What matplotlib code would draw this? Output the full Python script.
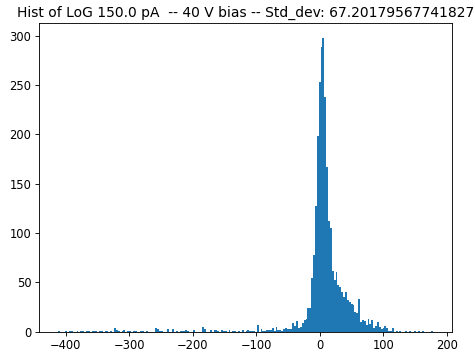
import numpy as np
import matplotlib
matplotlib.use("Agg")
import matplotlib.pyplot as plt

# histogram range and bin count
lo, hi = -412.5, 178.5
n_bins = 200

# counts per bin, left to right
counts = [
    1, 0, 0, 0, 1, 0, 1, 1, 0, 0,
    1, 0, 1, 1, 0, 1, 1, 0, 1, 1,
    1, 0, 1, 1, 0, 1, 1, 0, 1, 0,
    4, 2, 1, 0, 1, 2, 0, 1, 1, 0,
    1, 1, 0, 0, 1, 1, 0, 1, 0, 0,
    0, 0, 4, 3, 1, 1, 0, 0, 3, 0,
    0, 3, 0, 1, 0, 1, 1, 1, 2, 1,
    0, 0, 2, 0, 0, 0, 0, 5, 3, 0,
    0, 2, 0, 2, 2, 1, 0, 2, 1, 1,
    0, 2, 0, 1, 1, 0, 1, 0, 2, 0,
    1, 2, 1, 1, 1, 0, 7, 0, 3, 1,
    1, 2, 2, 2, 4, 1, 5, 2, 2, 1,
    3, 4, 3, 3, 3, 9, 6, 11, 4, 5,
    9, 12, 13, 24, 24, 54, 78, 127, 198, 253,
    289, 298, 238, 167, 112, 105, 61, 52, 60, 47,
    45, 40, 35, 40, 32, 30, 28, 27, 20, 19,
    33, 10, 12, 11, 7, 13, 8, 12, 4, 6,
    10, 5, 3, 4, 6, 4, 1, 1, 4, 0,
    1, 0, 1, 0, 0, 1, 0, 1, 0, 0,
    1, 0, 1, 0, 1, 0, 0, 0, 0, 1,
]

title = "Hist of LoG 150.0 pA  -- 40 V bias -- Std_dev: 67.20179567741827"

edges = np.linspace(lo, hi, n_bins + 1)
centers = (edges[:-1] + edges[1:]) / 2

dpi = 79
fig = plt.figure(figsize=(475 / dpi, 352 / dpi), dpi=dpi)
ax = fig.add_axes([0.0821, 0.0582, 0.8695, 0.8765])
ax.hist(centers, bins=edges, weights=counts, color="#1f77b4")
ax.set_xticks([-400, -300, -200, -100, 0, 100, 200])
ax.tick_params(labelsize=10.5)
ax.set_title(title, fontsize=12.6)

fig.savefig("out.png", dpi=dpi)
